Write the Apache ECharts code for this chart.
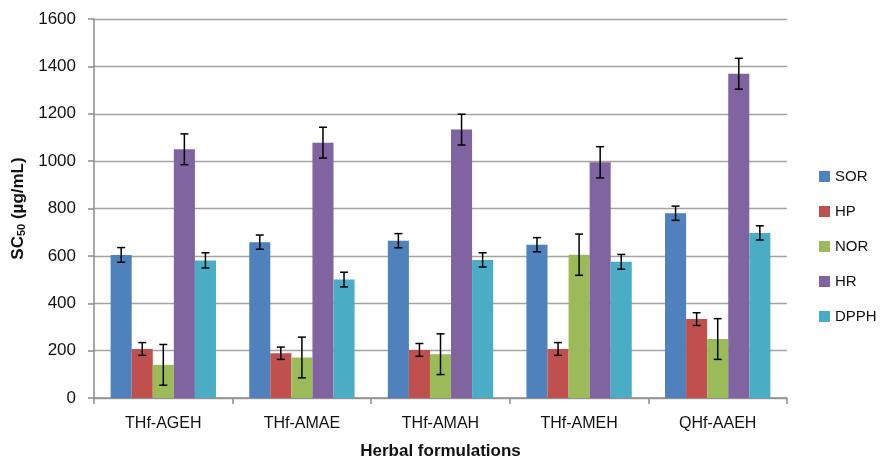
<!DOCTYPE html>
<html>
<head>
<meta charset="utf-8">
<script src="https://cdn.jsdelivr.net/npm/echarts@6/dist/echarts.min.js"></script>
<style>
html,body{margin:0;padding:0;background:#fff;}
#chart{width:880px;height:465px;}
</style>
</head>
<body>
<div id="chart"></div>
<script>
const categories = ['THf-AGEH', 'THf-AMAE', 'THf-AMAH', 'THf-AMEH', 'QHf-AAEH'];
const seriesNames = ['SOR', 'HP', 'NOR', 'HR', 'DPPH'];
const sorValues = [604, 658, 664, 647, 780];
const sorErrors = [31, 30, 30, 30, 30];
const hpValues = [207, 189, 203, 207, 333];
const hpErrors = [27, 26, 27, 27, 27];
const norValues = [140, 171, 185, 605, 249];
const norErrors = [86, 86, 86, 87, 86];
const hrValues = [1050, 1078, 1133, 995, 1369];
const hrErrors = [65, 65, 65, 66, 65];
const dpphValues = [581, 500, 583, 575, 697];
const dpphErrors = [32, 31, 30, 31, 30];
const yTicks = [0, 200, 400, 600, 800, 1000, 1200, 1400, 1600];

const colors = ['#4F81BD', '#C0504D', '#9BBB59', '#8064A2', '#4BACC6'];
const allValues = [sorValues, hpValues, norValues, hrValues, dpphValues];
const allErrors = [sorErrors, hpErrors, norErrors, hrErrors, dpphErrors];
const FONT = 'Liberation Sans';
const GAP = 0.24;

const barSeries = seriesNames.map((name, si) => ({
  name: name,
  type: 'bar',
  data: allValues[si],
  barGap: '0%',
  barCategoryGap: (GAP * 100) + '%',
  itemStyle: { color: colors[si] },
  z: 2
}));

const errSeries = seriesNames.map((name, si) => ({
  name: name + ' error',
  type: 'custom',
  data: allValues[si].map((v, i) => [i, v - allErrors[si][i], v + allErrors[si][i]]),
  encode: { x: 0, y: [1, 2] },
  z: 5,
  renderItem: function (params, api) {
    const i = api.value(0);
    const lo = api.coord([i, api.value(1)]);
    const hi = api.coord([i, api.value(2)]);
    const band = api.size([1, 0])[0];
    const bw = band * (1 - GAP) / 5;
    const x = lo[0] + (si - 2) * bw;
    const cap = 4;
    const st = { stroke: '#000', lineWidth: 1.5 };
    return {
      type: 'group',
      children: [
        { type: 'line', shape: { x1: x, y1: hi[1], x2: x, y2: lo[1] }, style: st },
        { type: 'line', shape: { x1: x - cap, y1: hi[1], x2: x + cap, y2: hi[1] }, style: st },
        { type: 'line', shape: { x1: x - cap, y1: lo[1], x2: x + cap, y2: lo[1] }, style: st }
      ]
    };
  }
}));

const chart = echarts.init(document.getElementById('chart'), null, { renderer: 'canvas' });
chart.setOption({
  animation: false,
  backgroundColor: '#fff',
  textStyle: { fontFamily: FONT },
  grid: { left: 94, right: 93, top: 19, bottom: 64, containLabel: false },
  legend: {
    orient: 'vertical',
    left: 814,
    top: 164,
    itemWidth: 11,
    itemHeight: 11,
    itemGap: 20,
    icon: 'rect',
    data: seriesNames,
    textStyle: { fontFamily: FONT, fontSize: 15, color: '#111' }
  },
  xAxis: {
    type: 'category',
    data: categories,
    name: 'Herbal formulations',
    nameLocation: 'middle',
    nameGap: 45,
    nameTextStyle: { fontFamily: FONT, fontSize: 17, fontWeight: 'bold', color: '#111' },
    axisLine: { show: true, lineStyle: { color: '#8c8c8c', width: 1.5 } },
    axisTick: { show: true, length: 6, lineStyle: { color: '#8c8c8c', width: 1.5 } },
    axisLabel: { margin: 18, fontFamily: FONT, fontSize: 16, color: '#111' }
  },
  yAxis: {
    type: 'value',
    min: yTicks[0],
    max: yTicks[yTicks.length - 1],
    interval: yTicks[1] - yTicks[0],
    name: '{a|SC}{b|50}{a| (µg/mL)}',
    nameLocation: 'middle',
    nameRotate: 90,
    nameGap: 54,
    nameTextStyle: {
      rich: {
        a: { fontFamily: FONT, fontSize: 17, fontWeight: 'bold', color: '#111', lineHeight: 22, verticalAlign: 'bottom' },
        b: { fontFamily: FONT, fontSize: 11, fontWeight: 'bold', color: '#111', lineHeight: 16, verticalAlign: 'bottom' }
      }
    },
    axisLine: { show: true, lineStyle: { color: '#8c8c8c', width: 1.5 } },
    axisTick: { show: true, length: 6, lineStyle: { color: '#8c8c8c', width: 1.5 } },
    axisLabel: { margin: 18, fontFamily: FONT, fontSize: 17, color: '#111', formatter: v => String(v) },
    splitLine: { show: true, lineStyle: { color: '#a3a3a3', width: 1.3 } }
  },
  series: barSeries.concat(errSeries)
});
</script>
</body>
</html>
